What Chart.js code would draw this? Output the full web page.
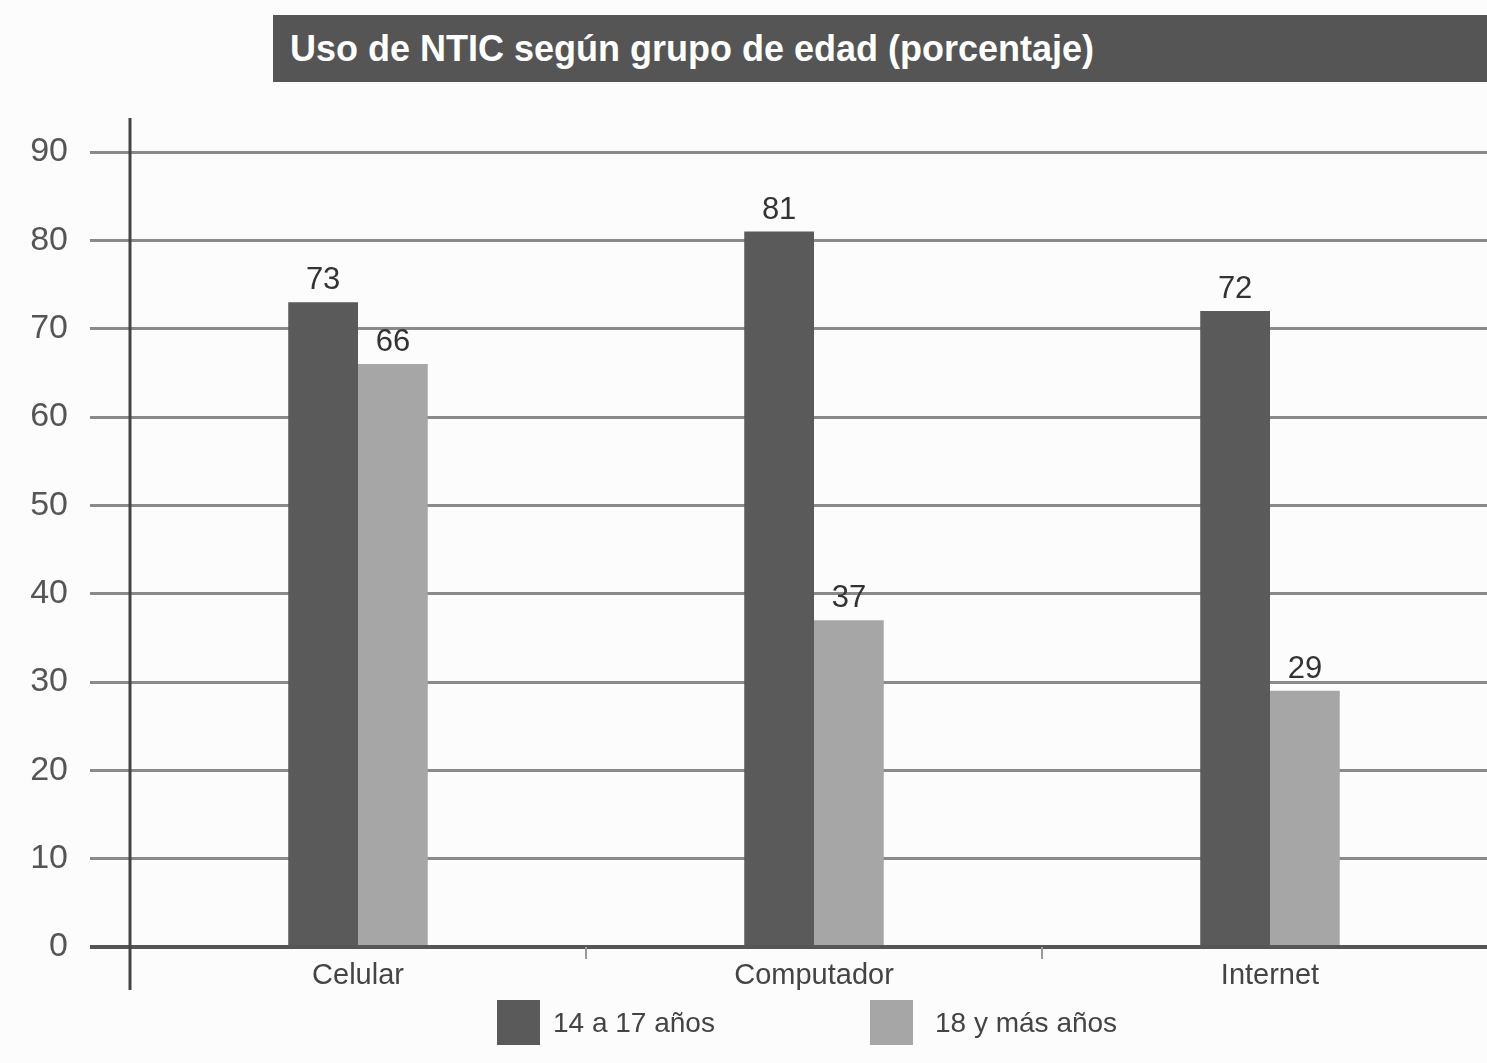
<!DOCTYPE html>
<html>
<head>
<meta charset="utf-8">
<script src="https://cdn.jsdelivr.net/npm/chart.js@4"></script>
<style>
  body { margin: 0; background: #fcfcfc; }
  #wrap { position: relative; width: 1487px; height: 1063px; background: #fcfcfc; overflow: hidden; }
  #title {
    position: absolute; left: 273px; top: 15px; width: 1214px; height: 67px;
    background: #555; color: #fff; font: bold 36px "Liberation Sans", Arial, sans-serif;
    line-height: 67px; padding-left: 17px; box-sizing: border-box;
  }
  .leg { position: absolute; top: 1000px; height: 45px; display: flex; align-items: center;
    font: 28px "Liberation Sans", Arial, sans-serif; color: #444; }
  .leg span.box { display: inline-block; width: 43px; height: 45px; }
</style>
</head>
<body>
<div id="wrap">
  <canvas id="myChart" width="1498" height="1063"></canvas>
  <div id="title">Uso de NTIC según grupo de edad (porcentaje)</div>
  <div class="leg" style="left:497px"><span class="box" style="background:#5a5a5a;margin-right:13px"></span>14 a 17 años</div>
  <div class="leg" style="left:870px"><span class="box" style="background:#a6a6a6;margin-right:22px"></span>18 y más años</div>
</div>
<script>
const categories = ['Celular', 'Computador', 'Internet'];
const series_names = ['14 a 17 años', '18 y más años'];
const young_vals = [73, 81, 72];
const adult_vals = [66, 37, 29];
const y_ticks = [0, 10, 20, 30, 40, 50, 60, 70, 80, 90];

// value labels over each bar
const valueLabels = {
    id: 'valueLabels',
    afterDatasetsDraw(chart) {
        const ctx = chart.ctx;
        ctx.save();
        ctx.font = '31px "Liberation Sans", Arial, sans-serif';
        ctx.fillStyle = '#333';
        ctx.textAlign = 'center';
        ctx.textBaseline = 'bottom';
        chart.data.datasets.forEach((ds, i) => {
            chart.getDatasetMeta(i).data.forEach((bar, j) => {
                ctx.fillText(ds.data[j], bar.x, bar.y - 6);
            });
        });
        ctx.restore();
    }
};

// y axis line that sticks out above and below the plot
const axisLine = {
    id: 'axisLine',
    afterDraw(chart) {
        const ctx = chart.ctx;
        const x = chart.chartArea.left;
        ctx.save();
        ctx.strokeStyle = '#444';
        ctx.lineWidth = 3;
        ctx.beginPath();
        ctx.moveTo(x, 118);
        ctx.lineTo(x, 990);
        ctx.stroke();
        ctx.restore();
    }
};

const ctx = document.getElementById('myChart').getContext('2d');
const myChart = new Chart(ctx, {
    type: 'bar',
    data: {
        labels: categories,
        datasets: [{
            label: series_names[0],
            data: young_vals,
            backgroundColor: '#5a5a5a',
        }, {
            label: series_names[1],
            data: adult_vals,
            backgroundColor: '#a6a6a6',
        }]
    },
    options: {
        responsive: false,
        animation: false,
        plugins: {
            legend: { display: false },
            tooltip: { enabled: false },
        },
        datasets: {
            bar: { categoryPercentage: 0.306, barPercentage: 1.0 }
        },
        layout: { padding: { top: 152, right: 0, bottom: 0, left: 0 } },
        scales: {
            y: {
                min: 0,
                max: 90,
                afterFit: (scale) => { scale.width = 130; },
                afterBuildTicks: (scale) => { scale.ticks = y_ticks.map(v => ({ value: v })); },
                border: { display: false },
                grid: {
                    color: (c) => c.tick && c.tick.value === 0 ? '#555' : '#8a8a8a',
                    lineWidth: (c) => c.tick && c.tick.value === 0 ? 4 : 3,
                    tickLength: 40,
                    tickColor: (c) => c.tick && c.tick.value === 0 ? '#555' : '#8a8a8a',
                },
                ticks: {
                    padding: 22,
                    color: '#555',
                    font: { size: 34, family: '"Liberation Sans", Arial, sans-serif' },
                }
            },
            x: {
                afterFit: (scale) => { scale.height = 116; },
                border: { display: false },
                grid: {
                    drawOnChartArea: false,
                    tickLength: 12,
                    tickColor: '#999',
                    lineWidth: 2,
                },
                ticks: {
                    padding: 0,
                    color: '#444',
                    font: { size: 29, family: '"Liberation Sans", Arial, sans-serif' },
                }
            }
        }
    },
    plugins: [valueLabels, axisLine]
});
</script>
</body>
</html>
